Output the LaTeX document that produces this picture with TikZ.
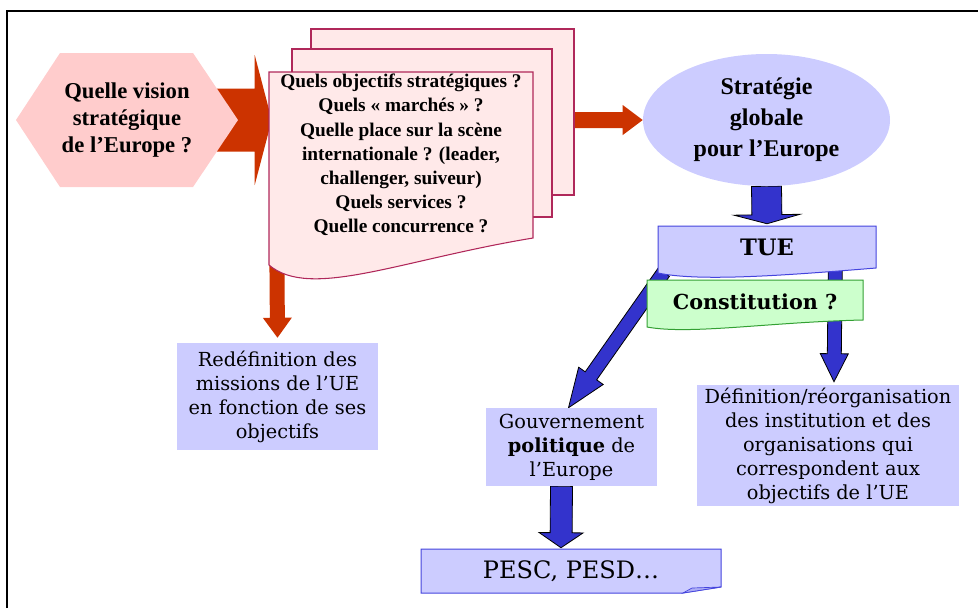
\documentclass[tikz,border=0pt]{standalone}
\usepackage{fontspec}
\setmainfont{Liberation Serif}
\newfontfamily\dejavu{DejaVu Serif}
\usetikzlibrary{calc,shapes.geometric}
\pgfdeclarelayer{fond}
\pgfsetlayers{fond,main}
\definecolor{rouge}{HTML}{CC3300}
\definecolor{rose}{HTML}{FFCCCC}
\definecolor{rosepale}{HTML}{FFE9E9}
\definecolor{bordeaux}{HTML}{B0285A}
\definecolor{lavande}{HTML}{CCCCFF}
\definecolor{bleu}{HTML}{3333CC}
\definecolor{bleubord}{HTML}{4444DD}
\definecolor{vertpale}{HTML}{CCFFCC}
\definecolor{vert}{HTML}{33A033}
% fleche pleine : style, depart, arrivee, demi-tige, demi-tete, longueur tete (px)
\newcommand{\flechebloc}[6]{%
  \path[#1] let \p1=(#2), \p2=(#3),
    \n1={atan2(\y2-\y1,\x2-\x1)}, \n2={veclen(\x2-\x1,\y2-\y1)} in
    [shift={(\p1)}, rotate={\n1}]
    (0pt,{#4*0.75pt}) -- ({\n2-#6*0.75pt},{#4*0.75pt}) -- ({\n2-#6*0.75pt},{#5*0.75pt})
    -- ({\n2+0pt},0pt) -- ({\n2-#6*0.75pt},{-#5*0.75pt}) -- ({\n2-#6*0.75pt},{-#4*0.75pt})
    -- (0pt,{-#4*0.75pt}) -- cycle;}
\tikzset{
  cadre/.style={line width=1.5pt},
  page/.style={fill=rosepale, draw=bordeaux, line width=0.8pt},
  titre/.style={align=center, inner sep=0pt},
  boite/.style={fill=lavande, align=center, inner sep=0pt, font=\dejavu\fontsize{14.5}{18}\selectfont},
  flecherouge/.style={fill=rouge},
  flechebleue/.style={fill=bleu, draw=black, line width=0.6pt}
}
\begin{document}
\begin{tikzpicture}[x=0.75pt,y=-0.75pt]
\useasboundingbox (0,0) rectangle (978,608);
\draw[cadre] (6.5,608) -- (6.5,11) -- (978,11); %cadre
\fill[rose] (16,120) -- (60,53) -- (193,53) -- (238,120) -- (193,187) -- (60,187) -- cycle; %hexagone
\node[titre, font=\bfseries\fontsize{17}{20.25}\selectfont] (vision) at (127,120) {Quelle vision\\stratégique\\de l’Europe ?};
\draw[page] (311,29) rectangle (574,195); %pages
\draw[page] (292,49) rectangle (552,217);
\draw[page] (269,265) -- (269,72) -- (533,72) -- (533,238) .. controls (400,260) and (310,300) .. (269,265) -- cycle;
\node[titre, minimum width=198pt, minimum height=124.5pt, font=\bfseries\fontsize{14.5}{18.1}\selectfont] (questions) at (401,155)
  {Quels objectifs stratégiques ?\\Quels « marchés » ?\\Quelle place sur la scène\\internationale ? (leader,\\challenger, suiveur)\\Quels services ?\\Quelle concurrence ?};
\node[titre, ellipse, fill=lavande, minimum width=185.25pt, minimum height=99pt, font=\bfseries\fontsize{18}{23.25}\selectfont] (strategie) at (766.5,120)
  {Stratégie\\globale\\pour l’Europe};
\draw[fill=lavande, draw=bleubord, line width=0.75pt] (658,226) -- (876,226) -- (876,268) .. controls (790,275) and (700,282) .. (658,273) -- cycle; %TUE
\node[titre, minimum width=163.5pt, minimum height=31.5pt, font=\dejavu\bfseries\fontsize{17}{20}\selectfont] (tue) at (767,247) {TUE};
\draw[fill=vertpale, draw=vert, line width=0.75pt] (647,280) -- (863,280) -- (863,320) .. controls (770,322) and (690,335) .. (647,327) -- cycle; %Constitution
\node[titre, font=\dejavu\bfseries\fontsize{15.5}{19}\selectfont] (constit) at (755,302) {Constitution ?};
\node[boite, minimum width=150.75pt, minimum height=80.25pt] (redef) at (277.5,396.5) {Redéfinition des\\missions de l’UE\\en fonction de ses\\objectifs};
\node[boite, minimum width=128.25pt, minimum height=58.5pt] (gouv) at (571.5,447) {Gouvernement\\\textbf{politique} de\\l’Europe};
\node[boite, minimum width=196.5pt, minimum height=90.75pt] (defin) at (828,445.5) {Définition/réorganisation\\des institution et des\\organisations qui\\correspondent aux\\objectifs de l’UE};
\draw[fill=lavande, draw=bleubord, line width=0.75pt] (421,549) -- (721,549) -- (721,587) -- (683,593) -- (421,593) -- cycle; %PESC
\draw[fill=lavande!80!bleu, draw=bleubord, line width=0.5pt] (683,593) -- (692,588) -- (721,587) -- cycle;
\node[titre, minimum width=225pt, minimum height=33pt, font=\dejavu\fontsize{18}{22}\selectfont] (pesc) at (571,571) {PESC, PESD…};
\begin{pgfonlayer}{fond}
\flechebloc{flecherouge}{$(vision)+(90,0)$}{$(questions.west |- vision)+(3,0)$}{31.5}{65}{17}
\flechebloc{flecherouge}{$(strategie.west)+(-69,0)$}{strategie.west}{8}{15}{20}
\flechebloc{flecherouge}{$(questions.south west)+(8,0)$}{$(redef.north)+(0,-5)$}{7.5}{14.5}{20}
\flechebloc{flechebleue}{strategie.south}{$(tue.north)+(0,-2)$}{15}{33}{9}
\flechebloc{flechebleue}{$(tue.south west)+(6,4)$}{$(gouv.north)+(-3,0)$}{7}{15}{39}
\flechebloc{flechebleue}{$(tue.south east)+(-41,0)$}{$(defin.north)+(6,-3)$}{7}{14}{28}
\flechebloc{flechebleue}{$(gouv.south)+(-10,0)$}{$(pesc.north)+(-10,-1)$}{11}{22}{15}
\end{pgfonlayer}
\end{tikzpicture}
\end{document}
